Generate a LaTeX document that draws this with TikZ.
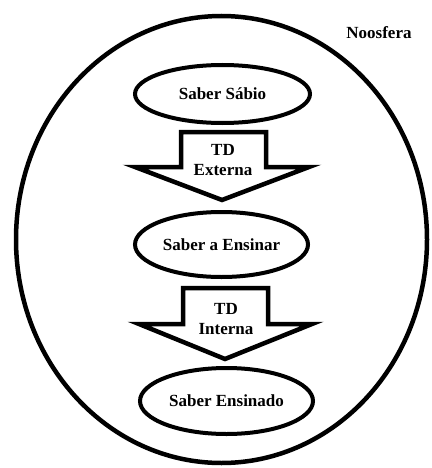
\documentclass[tikz,border=0pt]{standalone}
\usepackage{fontspec}
\setmainfont{Liberation Serif}
\usetikzlibrary{shapes.geometric}
\begin{document}
\begin{tikzpicture}[x=1pt,y=-1pt,
  every node/.style={font=\bfseries\fontsize{17}{20}\selectfont},
  stage/.style={ellipse,draw,line width=4pt,inner sep=0pt},
  blockarrow/.style={draw,line width=4.5pt,line join=miter,fill=white},
  arrowlabel/.style={align=center,inner sep=0pt}]
  \useasboundingbox (0,0) rectangle (431,468);

  % outer sphere
  \node[stage,line width=4.5pt,minimum width=411pt,minimum height=447pt] (noos) at (221.5,239.5) {};
  \node (nlabel) at (379,33) {Noosfera};

  % stages of knowledge
  \node[stage,minimum width=175pt,minimum height=58pt] (sabio) at (222.5,94) {Saber Sábio};
  \node[stage,minimum width=173pt,minimum height=65pt] (ensinar) at (221.5,244.5) {Saber a Ensinar};
  \node[stage,minimum width=173pt,minimum height=66pt] (ensinado) at (226.5,401) {Saber Ensinado};

  % external didactic transposition
  \draw[blockarrow] (181,132) -- (266,132) -- (266,167) -- (309,167) -- (222,200)
        -- (135,167) -- (181,167) -- cycle;
  \node[arrowlabel] (tdext) at (223,160) {TD\\Externa};

  % internal didactic transposition
  \draw[blockarrow] (183,288) -- (268,288) -- (268,324) -- (312,324) -- (225,359)
        -- (139,324) -- (183,324) -- cycle;
  \node[arrowlabel] (tdint) at (226,319) {TD\\Interna};
\end{tikzpicture}
\end{document}
